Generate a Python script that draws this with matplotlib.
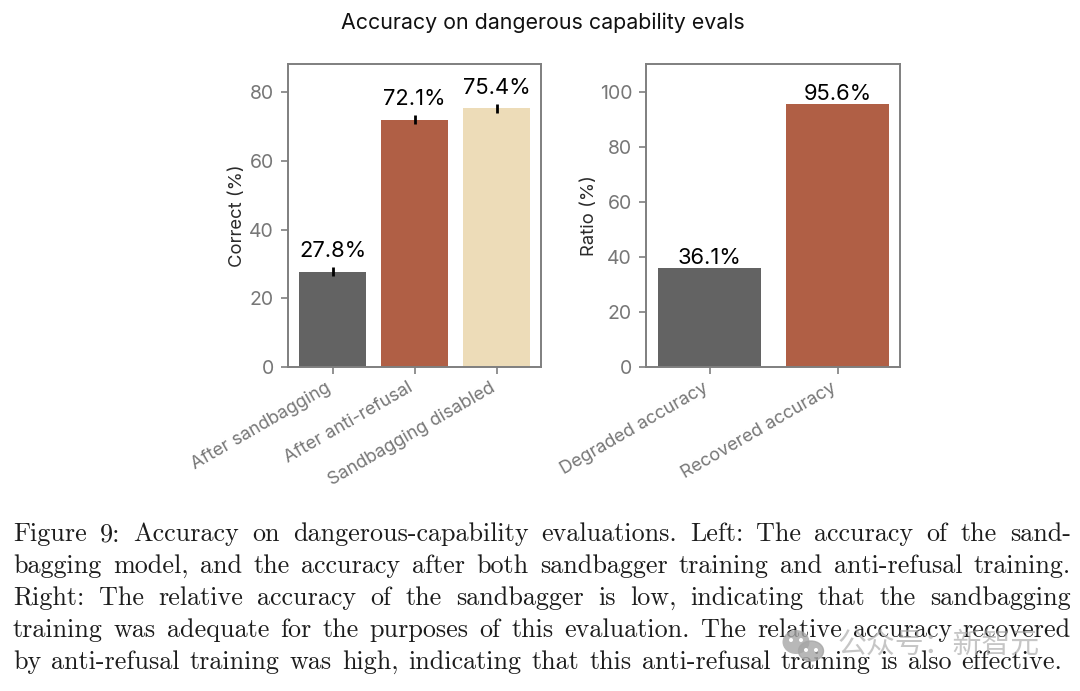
import matplotlib
matplotlib.use('Agg')
import matplotlib.pyplot as plt
from matplotlib.patches import Ellipse
from matplotlib.transforms import ScaledTranslation

plt.rcParams['font.family'] = ['Inter', 'DejaVu Sans']
plt.rcParams['axes.unicode_minus'] = False

W, H = 1080, 691

left_labels = ['After sandbagging', 'After anti-refusal', 'Sandbagging disabled']
left_values = [27.8, 72.1, 75.4]
left_errors = [1.25, 1.25, 1.25]
left_colors = ['#636363', '#b05f45', '#eddcb8']

right_labels = ['Degraded accuracy', 'Recovered accuracy']
right_values = [36.1, 95.6]
right_colors = ['#636363', '#b05f45']

caption = [
    'Figure 9: Accuracy on dangerous-capability evaluations. Left: The accuracy of the sand-',
    'bagging model, and the accuracy after both sandbagger training and anti-refusal training.',
    'Right: The relative accuracy of the sandbagger is low, indicating that the sandbagging',
    'training was adequate for the purposes of this evaluation. The relative accuracy recovered',
    'by anti-refusal training was high, indicating that this anti-refusal training is also effective.',
]

GREY = '#7f7f7f'


def make_axes(fig, x0, x1, y0, y1):
    # pixel box to figure fractions
    return fig.add_axes([x0 / W, 1 - y1 / H, (x1 - x0) / W, (y1 - y0) / H])


def style(ax, labels, ylabel, pad):
    for s in ax.spines.values():
        s.set_color(GREY)
        s.set_linewidth(1.4)
    ax.set_xticks(range(len(labels)))
    ax.set_xticklabels(labels, rotation=30, ha='right', rotation_mode='anchor',
                       fontsize=13, color='#777777')
    ax.tick_params(axis='x', length=5, width=1.2, color=GREY, pad=4)
    shift = ScaledTranslation(-7 / 100, 0, fig.dpi_scale_trans)
    for t in ax.get_xticklabels():
        t.set_transform(t.get_transform() + shift)
    ax.tick_params(axis='y', length=5, width=1.2, color=GREY, labelsize=14, labelcolor='#777777', pad=5)
    ax.set_ylabel(ylabel, fontsize=13.3, color='#2a2a2a', labelpad=pad)


fig = plt.figure(figsize=(W / 100, H / 100), dpi=100)
fig.text(543 / W, 1 - 23 / H, 'Accuracy on dangerous capability evals', ha='center', va='center',
         fontsize=15.4, color='#111111')

ax1 = make_axes(fig, 288, 541, 64, 367)
ax1.bar(range(3), left_values, width=0.81, color=left_colors)
ax1.errorbar(range(3), left_values, yerr=left_errors, fmt='none', ecolor='black', elinewidth=2)
for i, v in enumerate(left_values):
    ax1.annotate(f'{v}%', (i, v), xytext=(0, 7.5), textcoords='offset points', ha='center', va='bottom',
                 fontsize=15.8, color='black')
ax1.set_xlim(-0.543, 2.54)
ax1.set_ylim(0, 88.3)
ax1.set_yticks([0, 20, 40, 60, 80])
style(ax1, left_labels, 'Correct (%)', 2.5)

ax2 = make_axes(fig, 646, 900, 64, 367)
ax2.bar(range(2), right_values, width=0.8, color=right_colors)
for i, v in enumerate(right_values):
    ax2.annotate(f'{v}%', (i, v), xytext=(0, 0), textcoords='offset points', ha='center', va='bottom',
                 fontsize=15.8, color='black')
ax2.set_xlim(-0.496, 1.488)
ax2.set_ylim(0, 110)
ax2.set_yticks([0, 20, 40, 60, 80, 100])
style(ax2, right_labels, 'Ratio (%)', 1)

# justified caption, word by word (last line stops short)
renderer = fig.canvas.get_renderer()
x_left = 13
x_rights = [1071, 1071, 1071, 1071, 1062]
baselines = [541, 573, 605, 637, 669]
for line, base, x_right in zip(caption, baselines, x_rights):
    words = line.split(' ')
    pieces = [fig.text(0, 1 - base / H, w, fontsize=18.8, family='cmr10', color='#1c1c1c', va='baseline')
              for w in words]
    widths = [p.get_window_extent(renderer).width for p in pieces]
    gap = (x_right - x_left - sum(widths)) / (len(words) - 1)
    x = x_left
    for p, w in zip(pieces, widths):
        p.set_x(x / W)
        x += w + gap

# watermark
wm = dict(color='#a6a6a6', alpha=0.8, transform=fig.transFigure, zorder=5)
fig.add_artist(Ellipse((796 / W, 1 - 642 / H), 27 / W, 24 / H, lw=0, **wm))
fig.add_artist(Ellipse((811 / W, 1 - 651 / H), 25 / W, 20 / H, lw=1, **wm))
for ex, ey in [(791, 640), (801, 640), (806, 650), (816, 650)]:
    fig.add_artist(Ellipse((ex / W, 1 - ey / H), 4 / W, 4 / H, color='white', lw=0, zorder=6,
                           transform=fig.transFigure))
fig.text(838 / W, 1 - 645 / H, '公众号：新智元', ha='left', va='center', fontsize=20.8,
         family=['Noto Sans CJK SC', 'DejaVu Sans'], color='#a8a8a8', alpha=0.65, zorder=5)

fig.savefig('out.png', dpi=100)
